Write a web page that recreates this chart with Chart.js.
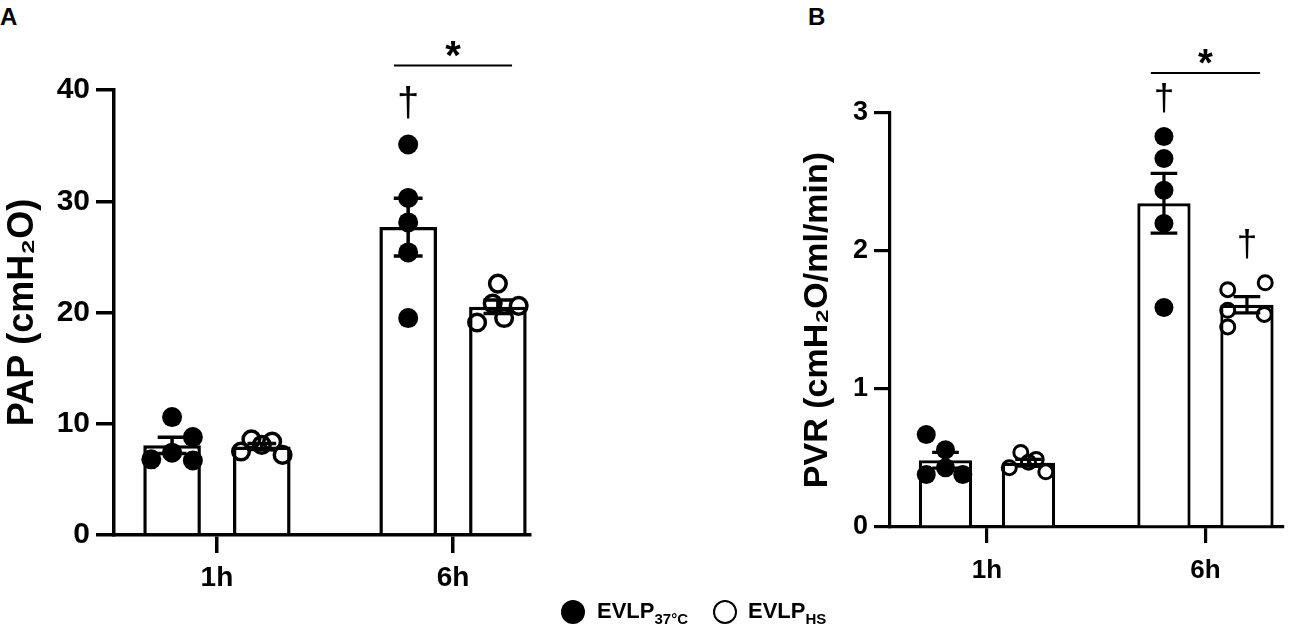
<!DOCTYPE html>
<html>
<head>
<meta charset="utf-8">
<script src="https://cdn.jsdelivr.net/npm/chart.js@4.4.1/dist/chart.umd.min.js"></script>
<style>
  body { margin: 0; background: #fff; width: 1303px; height: 626px; overflow: hidden; position: relative;
         font-family: "Liberation Sans", Arial, sans-serif; color: #000; }
  #wrapA { position: absolute; left: 0; top: 0; width: 560px; height: 626px; }
  #wrapB { position: absolute; left: 780px; top: 0; width: 523px; height: 626px; }
  .letter { position: absolute; top: 5px; font-weight: bold; font-size: 24px; line-height: 24px; }
  .dot { position: absolute; box-sizing: border-box; width: 24px; height: 24px; border-radius: 50%; top: 600px; }
  .dot.fill { background: #000; left: 561px; }
  .dot.open { border: 2px solid #000; left: 713px; }
  .lab { position: absolute; top: 600px; font-weight: bold; font-size: 22px; line-height: 22px; white-space: nowrap; }
  .lab sub { font-size: 15px; vertical-align: -6px; line-height: 0; }
</style>
</head>
<body>
<div class="letter" style="left:0">A</div>
<div class="letter" style="left:808px">B</div>
<div id="wrapA"><canvas id="chartA"></canvas></div>
<div id="wrapB"><canvas id="chartB"></canvas></div>
<span class="dot fill"></span><span class="lab" style="left:597px">EVLP<sub>37°C</sub></span>
<span class="dot open"></span><span class="lab" style="left:748px">EVLP<sub>HS</sub></span>
<script>
Chart.defaults.font.family = '"Liberation Sans", Arial, sans-serif';
Chart.defaults.color = '#000';

const groups = ['1h', '6h'];

// PAP (cmH2O), one value per lung
const pap37_1h = [10.6, 6.8, 7.4, 8.8, 6.7];
const pap37_6h = [35.1, 30.3, 28.1, 25.4, 19.5];
const papHS_1h = [7.5, 8.6, 8.1, 8.4, 7.2];
const papHS_6h = [22.6, 20.8, 20.6, 19.1, 19.5];

// PVR (cmH2O/ml/min)
const pvr37_1h = [0.67, 0.56, 0.38, 0.43, 0.38];
const pvr37_6h = [2.83, 2.67, 2.44, 2.20, 1.59];
const pvrHS_1h = [0.43, 0.54, 0.47, 0.49, 0.40];
const pvrHS_6h = [1.72, 1.77, 1.57, 1.54, 1.45];

// scatter spread of the dots, in dot widths (layout only)
const jitA37_1h = [0, -1, 0, 1, 1];
const jitA37_6h = [0, 0, 0, 0, 0];
const jitAHS_1h = [-1, -0.5, 0, 0.5, 1];
const jitAHS_6h = [0, -0.25, 1, -1, 0.3];
const jitB37_1h = [-1, 0, -1, 0, 0.9];
const jitB37_6h = [0, 0, 0, 0, 0];
const jitBHS_1h = [-1, -0.4, 0, 0.4, 0.9];
const jitBHS_6h = [-1, 0.95, -1, 0.9, -1];

const mean = a => a.reduce((s, v) => s + v, 0) / a.length;
const sem = a => {
  const m = mean(a);
  const sd = Math.sqrt(a.reduce((s, v) => s + (v - m) * (v - m), 0) / (a.length - 1));
  return sd / Math.sqrt(a.length);
};

const catPct = 0.76, barPct = 0.642, step = 0.088;

function overlay(p) {
  return {
    id: 'overlay',
    afterDatasetDraw(chart, args) {
      if (args.index !== 0) return;
      const ctx = chart.ctx, y = chart.scales.y;
      ctx.save();
      ctx.strokeStyle = '#000';
      ctx.lineWidth = p.lw;
      p.series.forEach((ser, s) => {
        const meta = chart.getDatasetMeta(s);
        ser.forEach((vals, g) => {
          const bar = meta.data[g];
          const m = mean(vals), e = sem(vals);
          const top = y.getPixelForValue(m + e), bot = y.getPixelForValue(m - e);
          const hw = bar.width / 4;
          ctx.beginPath();
          ctx.moveTo(bar.x, top); ctx.lineTo(bar.x, bot);
          ctx.moveTo(bar.x - hw, top); ctx.lineTo(bar.x + hw, top);
          ctx.moveTo(bar.x - hw, bot); ctx.lineTo(bar.x + hw, bot);
          ctx.stroke();
        });
      });
      ctx.restore();
    },
    afterDraw(chart) {
      const ctx = chart.ctx, x = chart.scales.x, y = chart.scales.y;
      ctx.save();
      ctx.fillStyle = '#000';
      ctx.strokeStyle = '#000';
      // daggers above the highest dot
      ctx.font = p.dagFont + 'px "Liberation Sans", Arial, sans-serif';
      ctx.textAlign = 'center';
      ctx.textBaseline = 'middle';
      p.daggers.forEach(([g, s]) => {
        const bar = chart.getDatasetMeta(s).data[g];
        const top = y.getPixelForValue(Math.max(...p.series[s][g]));
        ctx.fillText('†', bar.x, top - p.dagGap);
      });
      // significance bar between the 6h groups
      const ly = y.getPixelForValue(p.sigAt);
      const x0 = x.getPixelForValue(p.sigGroup - 0.25), x1 = x.getPixelForValue(p.sigGroup + 0.25);
      ctx.lineWidth = 2;
      ctx.beginPath();
      ctx.moveTo(x0, ly); ctx.lineTo(x1, ly);
      ctx.stroke();
      ctx.font = 'bold ' + p.starFont + 'px "Liberation Sans", Arial, sans-serif';
      ctx.textBaseline = 'alphabetic';
      ctx.fillText('*', (x0 + x1) / 2, ly + 3);
      ctx.restore();
    }
  };
}

function panel(p) {
  const datasets = [];
  p.series.forEach((ser, s) => {
    datasets.push({
      type: 'bar',
      data: ser.map((vals, g) => ({ x: g, y: mean(vals) })),
      backgroundColor: '#fff',
      borderColor: '#000',
      borderWidth: p.lw,
      categoryPercentage: catPct,
      barPercentage: barPct,
      order: 2
    });
  });
  p.series.forEach((ser, s) => {
    const off = (s === 0 ? -1 : 1) * catPct / 4;
    const pts = [];
    ser.forEach((vals, g) => vals.forEach((v, i) => pts.push({ x: g + off + p.jitter[s][g][i] * step, y: v })));
    datasets.push({
      type: 'scatter',
      data: pts,
      showLine: false,
      pointRadius: s === 0 ? p.dotR : p.ringR,
      pointBackgroundColor: s === 0 ? '#000' : 'rgba(0,0,0,0)',
      pointBorderColor: '#000',
      pointBorderWidth: s === 0 ? 0 : p.ringW,
      order: 1
    });
  });

  const axisLine = { color: '#000', width: p.lw };
  new Chart(document.getElementById(p.id), {
    data: { datasets },
    options: {
      responsive: true,
      maintainAspectRatio: false,
      animation: false,
      events: [],
      layout: { padding: { top: p.top, right: p.right, left: 0, bottom: 0 } },
      plugins: { legend: { display: false }, tooltip: { enabled: false } },
      scales: {
        x: {
          type: 'linear',
          offset: false,
          min: p.xMin,
          max: p.xMax,
          afterBuildTicks: sc => { sc.ticks = groups.map((_, i) => ({ value: i })); },
          afterFit: sc => { sc.height = p.xHeight; },
          ticks: {
            callback: v => groups[v],
            font: { size: p.xFont, weight: 'bold' },
            padding: p.xPad,
            maxRotation: 0,
            autoSkip: false
          },
          grid: { offset: false, drawOnChartArea: false, tickLength: p.tick, lineWidth: p.lw, tickWidth: p.lw, color: '#000' },
          border: axisLine
        },
        y: {
          min: 0,
          max: p.yMax,
          afterFit: sc => { sc.width = p.yWidth; },
          ticks: { stepSize: p.yStep, font: { size: p.yFont, weight: 'bold' }, padding: 6 },
          grid: { drawOnChartArea: false, tickLength: p.tick, lineWidth: p.lw, tickWidth: p.lw, color: '#000' },
          border: axisLine,
          title: {
            display: true,
            text: p.title,
            font: { size: p.titleFont, weight: 'bold' },
            padding: { top: p.titlePad, bottom: 0 }
          }
        }
      }
    },
    plugins: [overlay(p)]
  });
}

panel({
  id: 'chartA', title: 'PAP (cmH₂O)', yMax: 40, yStep: 10,
  series: [[pap37_1h, pap37_6h], [papHS_1h, papHS_6h]],
  jitter: [[jitA37_1h, jitA37_6h], [jitAHS_1h, jitAHS_6h]],
  daggers: [[1, 0]], sigGroup: 1, sigAt: 42.2,
  xMin: -0.436, xMax: 1.326,
  top: 90, right: 30, yWidth: 114, xHeight: 91,
  lw: 3.5, tick: 18, xFont: 28, xPad: 8, yFont: 30, titleFont: 36, titlePad: 1,
  dotR: 10, ringR: 8.3, ringW: 3.5, dagFont: 40, dagGap: 40, starFont: 40
});

panel({
  id: 'chartB', title: 'PVR (cmH₂O/ml/min)', yMax: 3, yStep: 1,
  series: [[pvr37_1h, pvr37_6h], [pvrHS_1h, pvrHS_6h]],
  jitter: [[jitB37_1h, jitB37_6h], [jitBHS_1h, jitBHS_6h]],
  daggers: [[1, 0], [1, 1]], sigGroup: 1, sigAt: 3.29,
  xMin: -0.444, xMax: 1.355,
  top: 113, right: 20, yWidth: 110, xHeight: 99,
  lw: 3.2, tick: 16, xFont: 26, xPad: 12, yFont: 27, titleFont: 34, titlePad: 17,
  dotR: 9.5, ringR: 7, ringW: 3, dagFont: 37, dagGap: 37, starFont: 38
});
</script>
</body>
</html>
